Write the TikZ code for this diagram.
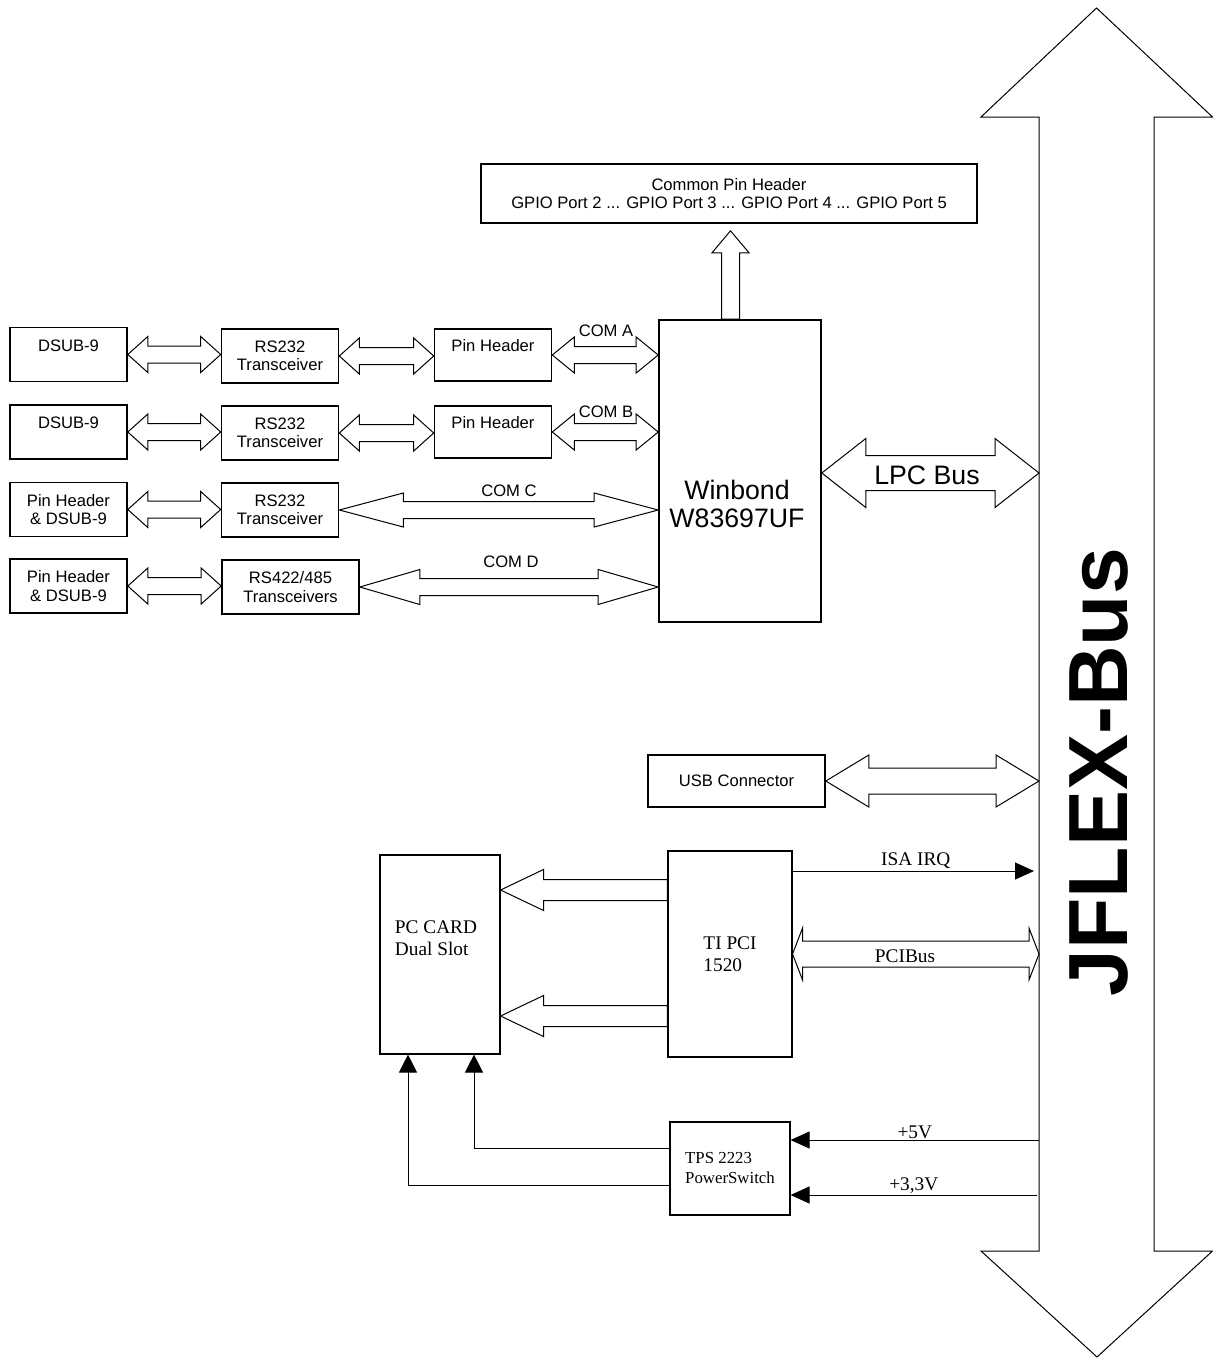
\documentclass[tikz,border=0pt]{standalone}
\usepackage{fontspec}
\setmainfont{Liberation Sans}
\newfontfamily\tnr{Liberation Serif}
\usetikzlibrary{arrows.meta,calc}

\newcommand\sansS{\fontsize{16.6}{18.5}\selectfont}
\newcommand\sansL{\fontsize{26.7}{28}\selectfont}
\newcommand\serifM{\tnr\fontsize{19.3}{21.5}\selectfont}
\newcommand\serifS{\tnr\fontsize{16.8}{20}\selectfont}

\newcommand\busarrow[5]{%
  \draw[fat] let \p1=#1, \p2=#2 in
    (\x1,\y1) -- (\x1+#3pt,\y1+#4pt) -- (\x1+#3pt,\y1+#5pt) -- (\x2-#3pt,\y1+#5pt)
    -- (\x2-#3pt,\y1+#4pt) -- (\x2,\y1) -- (\x2-#3pt,\y1-#4pt) -- (\x2-#3pt,\y1-#5pt)
    -- (\x1+#3pt,\y1-#5pt) -- (\x1+#3pt,\y1-#4pt) -- cycle;}
\newcommand\fatleft[5]{%
  \draw[fat] let \p1=#1, \p2=#2 in
    (\x1,\y1) -- (\x1+#3pt,\y1+#4pt) -- (\x1+#3pt,\y1+#5pt) -- (\x2,\y1+#5pt)
    -- (\x2,\y1-#5pt) -- (\x1+#3pt,\y1-#5pt) -- (\x1+#3pt,\y1-#4pt) -- cycle;}
\newcommand\fatup[5]{%
  \draw[fat] let \p1=#1, \p2=#2 in
    (\x1,\y1) -- (\x1+#4pt,\y1-#3pt) -- (\x1+#5pt,\y1-#3pt) -- (\x1+#5pt,\y2)
    -- (\x1-#5pt,\y2) -- (\x1-#5pt,\y1-#3pt) -- (\x1-#4pt,\y1-#3pt) -- cycle;}

\tikzset{
  box/.style={draw, line width=1.6pt, inner sep=0pt, align=center, font=\sansS},
  lbox/.style={box, minimum width=117pt, minimum height=54pt},
  tbox/.style={draw, line width=1.1pt, inner sep=0pt, align=left, font=\serifM},
  fat/.style={draw, line width=1pt, line join=miter},
  wire/.style={line width=1pt},
  solidhead/.style={-{Triangle[length=19pt,width=17pt]}},
}

\begin{document}
\begin{tikzpicture}[x=1pt,y=-1pt]
  \useasboundingbox (0,0) rectangle (1213,1358);

  \draw[line width=1pt] (1096.5,8) -- (1212.5,117) -- (1154,117) -- (1154,1251) -- (1212.5,1251)
    -- (1097,1357) -- (981,1251) -- (1039,1251) -- (1039,117) -- (981,117) -- cycle;
  \coordinate (busL) at (1039,117);
  \node[rotate=90, font=\fontsize{84}{84}\selectfont\bfseries] (jflex) at (1099,772) {JFLEX-Bus};

  \node[box, minimum width=496pt, minimum height=59pt] (gpio) at (729,193.5)
    {Common Pin Header\\GPIO Port 2 ... GPIO Port 3 ... GPIO Port 4 ... GPIO Port 5};
  \node[box, minimum width=162pt, minimum height=302pt] (winbond) at (740,471) {};
  \node[font=\sansL, align=center] (winbondtxt) at (737,504) {Winbond\\W83697UF};

  \node[lbox] (dsubA) at (68.5,354.5) {DSUB-9\\\mbox{}};
  \node[lbox] (rsA) at (280,356) {RS232\\Transceiver};
  \node[lbox, minimum height=52pt] (phA) at (493,355) {Pin Header\\\mbox{}};
  \node[lbox] (dsubB) at (68.5,432) {DSUB-9\\\mbox{}};
  \node[lbox] (rsB) at (280,433) {RS232\\Transceiver};
  \node[lbox, minimum height=52pt] (phB) at (493,432) {Pin Header\\\mbox{}};
  \node[lbox] (pdC) at (68.5,509.5) {Pin Header\\\& DSUB-9};
  \node[lbox] (rsC) at (280,510) {RS232\\Transceiver};
  \node[lbox] (pdD) at (68.5,586) {Pin Header\\\& DSUB-9};
  \node[lbox, minimum width=137pt] (rsD) at (290.5,587) {RS422/485\\Transceivers};

  \busarrow{(dsubA.east)}{(rsA.west)}{20}{18}{8.5}
  \busarrow{(rsA.east)}{(phA.west)}{20}{18}{8.5}
  \busarrow{(phA.east)}{(phA.east -| winbond.west)}{22}{18}{8.5}
  \busarrow{(dsubB.east)}{(rsB.west)}{20}{18}{8.5}
  \busarrow{(rsB.east)}{(phB.west)}{20}{18}{8.5}
  \busarrow{(phB.east)}{(phB.east -| winbond.west)}{22}{18}{8.5}
  \busarrow{(pdC.east)}{(rsC.west)}{20}{18}{8.5}
  \busarrow{(rsC.east)}{(rsC.east -| winbond.west)}{64}{17}{8.5}
  \busarrow{(pdD.east)}{(rsD.west)}{20}{18}{8.5}
  \busarrow{(rsD.east)}{(rsD.east -| winbond.west)}{60}{17.5}{8.5}

  \node[font=\sansS] (comA) at (606,331) {COM A};
  \node[font=\sansS] (comB) at (606,412) {COM B};
  \node[font=\sansS] (comC) at (509,491) {COM C};
  \node[font=\sansS] (comD) at (511,562) {COM D};

  \coordinate (gpiotip) at ([xshift=1.5pt,yshift=-7pt]gpio.south);
  \fatup{(gpiotip)}{(gpiotip |- winbond.north)}{22}{18.5}{9}

  \coordinate (lpcL) at ([yshift=-2pt]winbond.east);
  \busarrow{(lpcL)}{(lpcL -| busL)}{44}{34.5}{17.5}
  \node[font=\sansL] (lpc) at (927,475) {LPC Bus};

  \node[box, minimum width=177pt, minimum height=52pt] (usb) at (736.5,781) {USB Connector};
  \busarrow{(usb.east)}{(usb.east -| busL)}{43}{26}{13}

  \node[tbox, minimum width=120pt, minimum height=199pt] (pccard) at (440,954.5) {};
  \node[font=\serifM, align=left] (pccardtxt) at (436,938) {PC CARD\\Dual Slot};
  \node[tbox, minimum width=124pt, minimum height=206pt] (tipci) at (730,954) {TI PCI\\1520};
  \node[tbox, font=\serifS, minimum width=120pt, minimum height=93pt] (tps) at (730,1168.5) {TPS 2223\\PowerSwitch};

  \coordinate (cardA) at ([yshift=64.5pt]pccard.east);
  \fatleft{(cardA)}{(cardA -| tipci.west)}{43}{20.5}{10.5}
  \coordinate (cardB) at ([yshift=-61.5pt]pccard.east);
  \fatleft{(cardB)}{(cardB -| tipci.west)}{43}{20.5}{10.5}

  \coordinate (irq) at ([yshift=83pt]tipci.east);
  \draw[wire, solidhead, shorten >=5pt] (irq) -- (irq -| busL)
    node[midway, above, font=\serifM, inner sep=2pt] (irqlbl) {ISA IRQ};
  \busarrow{(tipci.east)}{(tipci.east -| busL)}{10}{26}{13}
  \node[font=\serifM] (pcilbl) at (905,956) {PCIBus};

  \coordinate (p5) at ([yshift=28.5pt]tps.east);
  \draw[wire, solidhead] (p5 -| busL) -- (p5)
    node[midway, above, font=\serifM, inner sep=1pt] (v5lbl) {+5V};
  \coordinate (p33) at ([yshift=-26.5pt]tps.east);
  \draw[wire, solidhead] ([xshift=-2pt]p33 -| busL) -- (p33)
    node[midway, above, font=\serifM, inner sep=1pt] (v33lbl) {+3,3V};

  \coordinate (sw1) at ([yshift=20.5pt]tps.west);
  \coordinate (cin1) at ([xshift=34pt]pccard.south);
  \draw[wire, -{Triangle[length=18pt,width=18pt]}] (sw1) -| (cin1);
  \coordinate (sw2) at ([yshift=-16.5pt]tps.west);
  \coordinate (cin2) at ([xshift=-32pt]pccard.south);
  \draw[wire, -{Triangle[length=18pt,width=18pt]}] (sw2) -| (cin2);
\end{tikzpicture}
\end{document}
